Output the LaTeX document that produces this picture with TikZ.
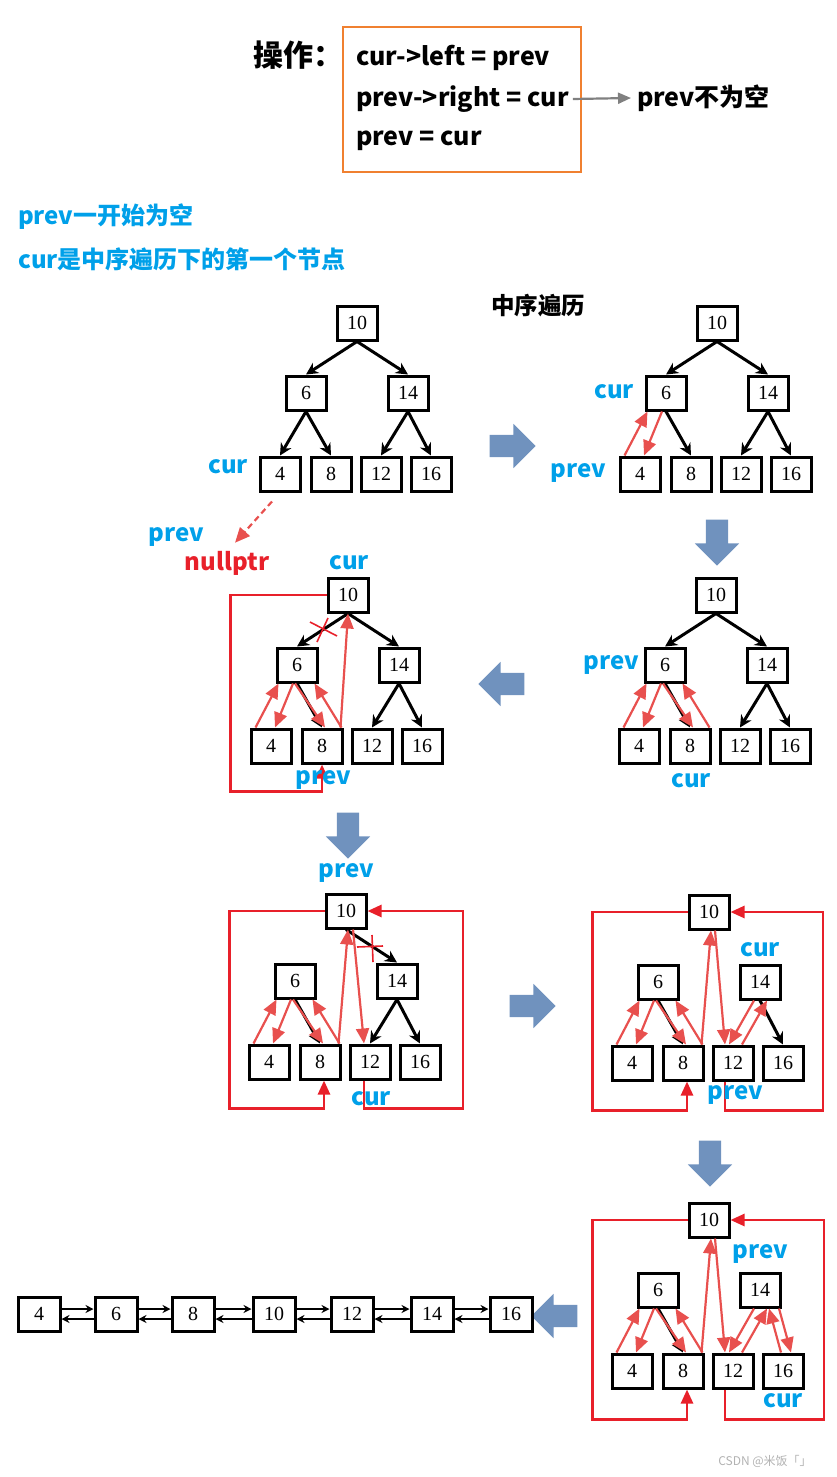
\documentclass[tikz,border=0pt]{standalone}
\usepackage{fontspec}
\setmainfont{Noto Sans CJK SC}
\newfontfamily\numfont{Liberation Serif}
\usetikzlibrary{arrows.meta,positioning,shapes.arrows}

\definecolor{curblue}{RGB}{0,160,233}
\definecolor{linkred}{RGB}{232,80,78}
\definecolor{framered}{RGB}{232,32,42}
\definecolor{boxorange}{RGB}{240,128,48}
\definecolor{stepblue}{RGB}{112,146,190}

\tikzset{
  numbox/.style={draw=black, line width=3pt, fill=white, minimum width=40pt, minimum height=34pt, inner sep=0pt, font=\numfont\fontsize{20}{20}\selectfont},
  blk/.style={-{Stealth[length=12pt,width=12pt]}, line width=3pt},
  listarr/.style={-{Stealth[length=8pt,width=8pt]}, line width=2.4pt},
  rarr/.style={-{Triangle[length=15pt,width=13pt]}, draw=linkred, line width=2.2pt},
  frame/.style={-{Triangle[length=14pt,width=12pt]}, draw=framered, line width=2.6pt},
  tag/.style={text=curblue, font=\bfseries\fontsize{24}{24}\selectfont, inner sep=0pt},
  opline/.style={font=\bfseries\fontsize{25}{25}\selectfont, inner sep=0pt},
  stepper/.style={single arrow, fill=stepblue, draw=none, minimum height=46pt, minimum width=44pt, single arrow head extend=11pt, inner xsep=0pt, inner ysep=11pt}
}

% one search tree, root 10 at (#2,#3)
\newcommand{\bsttree}[3]{%
  \begin{scope}[shift={(#2,#3)}]
    \node[numbox] (#110) at (0,0) {10};
    \node[numbox] (#16) at (-51,70) {6};
    \node[numbox] (#114) at (51,70) {14};
    \node[numbox] (#14) at (-77,151) {4};
    \node[numbox] (#18) at (-26,151) {8};
    \node[numbox] (#112) at (24,151) {12};
    \node[numbox] (#116) at (74,151) {16};
  \end{scope}}

% red links 4<->6 and 6<->8
\newcommand{\leftlinks}[1]{%
  \draw[rarr] ([xshift=6pt]#14.north west) -- ([xshift=3pt]#16.south west);
  \draw[rarr] ([xshift=-4pt]#16.south) -- ([xshift=4pt]#14.north);
  \draw[rarr] ([xshift=-2pt]#16.south) -- ([xshift=3pt]#18.north);
  \draw[rarr] ([xshift=-2pt]#18.north east) -- ([xshift=-4pt]#16.south east);}

\begin{document}
\begin{tikzpicture}[x=1pt, y=-1pt]
  \useasboundingbox (0,0) rectangle (836,1477);

  % Operations
  \node[font=\bfseries\fontsize{30}{30}\selectfont, inner sep=0pt] (optitle) at (298,55) {操作：};
  \node[draw=boxorange, line width=2.6pt, minimum width=238pt, minimum height=145pt] (opbox) at (462,99.5) {};
  \node[opline, anchor=west] (op1) at (356,58) {cur->left = prev};
  \node[opline, anchor=west] (op2) at (356,99) {prev->right = cur};
  \node[opline, anchor=west] (op3) at (356,141) {prev = cur};
  \node[opline, anchor=west] (opnote) at (637,98) {prev不为空};
  \draw[-{Triangle[length=13pt,width=11pt]}, draw=gray, line width=2.2pt] ([xshift=4pt]op2.east) -- ([xshift=-6pt]opnote.west);

  \node[tag, anchor=west] (note1) at (18,217) {prev一开始为空};
  \node[tag, anchor=west] (note2) at (18,259) {cur是中序遍历下的第一个节点};
  \node[font=\bfseries\fontsize{23.5}{23.5}\selectfont, inner sep=0pt] (inorder) at (538,306) {中序遍历};

  % Step arrows
  \node[stepper] (s1) at (507,446) {};
  \node[stepper, rotate=-90] (s2) at (717,537) {};
  \node[stepper, rotate=180] (s3) at (507,684) {};
  \node[stepper, rotate=-90] (s4) at (348,830) {};
  \node[stepper] (s5) at (527,1006) {};
  \node[stepper, rotate=-90] (s6) at (710,1158) {};
  \node[stepper, rotate=180] (s7) at (560,1316) {};

  % Tree A
  \bsttree{A}{357}{323}
  \draw[blk] (A10.south) -- (A6.north);
  \draw[blk] (A10.south) -- (A14.north);
  \draw[blk] (A6.south) -- (A4.north);
  \draw[blk] (A6.south) -- (A8.north);
  \draw[blk] (A14.south) -- (A12.north);
  \draw[blk] (A14.south) -- (A16.north);
  \node[tag] (Acur) at (228,467) {cur};
  \node[tag] (Aprev) at (176,537) {prev};
  \node[text=framered, font=\bfseries\fontsize{24}{24}\selectfont, inner sep=0pt] (nullp) at (227,563) {nullptr};
  \draw[rarr, dash pattern=on 6pt off 4pt] ([shift={(-8pt,-9pt)}]A4.south) -- ([shift={(8pt,8pt)}]nullp.north);

  % Tree B
  \bsttree{B}{717}{323}
  \draw[blk] (B10.south) -- (B6.north);
  \draw[blk] (B10.south) -- (B14.north);
  \draw[blk] (B6.south) -- (B8.north);
  \draw[blk] (B14.south) -- (B12.north);
  \draw[blk] (B14.south) -- (B16.north);
  \draw[rarr] ([xshift=6pt]B4.north west) -- ([xshift=3pt]B6.south west);
  \draw[rarr] ([xshift=-4pt]B6.south) -- ([xshift=4pt]B4.north);
  \node[tag] (Bcur) at (614,392) {cur};
  \node[tag] (Bprev) at (578,473) {prev};

  % Tree C
  \bsttree{C}{348}{595}
  \draw[blk] (C10.south) -- (C6.north);
  \draw[blk] (C10.south) -- (C14.north);
  \draw[blk] (C6.south) -- (C8.north);
  \draw[blk] (C14.south) -- (C12.north);
  \draw[blk] (C14.south) -- (C16.north);
  \leftlinks{C}
  \draw[rarr] ([xshift=-3pt]C8.north east) -- (C10.south);
  \draw[framered, line width=1.6pt] (310,622) -- (337,636) (328,618) -- (317,642);
  \draw[frame] (C10.west) -- ++(-96,0) |- ([yshift=-27pt]C8.south) -- (C8.south);
  \node[tag] (Ccur) at (349,563) {cur};
  \node[tag] (Cprev) at (323,780) {prev};

  % Tree D
  \bsttree{D}{716}{595}
  \draw[blk] (D10.south) -- (D6.north);
  \draw[blk] (D10.south) -- (D14.north);
  \draw[blk] (D6.south) -- (D8.north);
  \draw[blk] (D14.south) -- (D12.north);
  \draw[blk] (D14.south) -- (D16.north);
  \leftlinks{D}
  \node[tag] (Dprev) at (611,665) {prev};
  \node[tag] (Dcur) at (691,781) {cur};

  % Tree E
  \bsttree{E}{346}{911}
  \draw[blk] (E10.south) -- (E14.north);
  \draw[blk] (E6.south) -- (E8.north);
  \draw[blk] (E14.south) -- (E12.north);
  \draw[blk] (E14.south) -- (E16.north);
  \leftlinks{E}
  \draw[rarr] ([xshift=-3pt]E8.north east) -- ([xshift=2pt]E10.south);
  \draw[rarr] ([xshift=7pt]E10.south) -- ([xshift=-6pt]E12.north);
  \draw[framered, line width=1.6pt] (357,947) -- (383,946) (372,935) -- (373,962);
  \draw[frame] (E10.west) -- ++(-95,0) |- ([shift={(4pt,-28pt)}]E8.south) -- ([xshift=4pt]E8.south);
  \draw[frame] ([xshift=-6pt]E12.south) -- ++(0,28) -- ++(99,0) |- (E10.east);
  \node[tag] (Eprev) at (346,873) {prev};
  \node[tag] (Ecur) at (371,1099) {cur};

  % Tree F
  \bsttree{F}{709}{912}
  \draw[blk] (F6.south) -- (F8.north);
  \draw[blk] (F14.south) -- (F16.north);
  \leftlinks{F}
  \draw[rarr] ([xshift=-3pt]F8.north east) -- ([xshift=2pt]F10.south);
  \draw[rarr] ([xshift=6pt]F10.south) -- ([xshift=-8pt]F12.north);
  \draw[rarr] ([xshift=-6pt]F14.south) -- ([xshift=-4pt]F12.north);
  \draw[rarr] ([xshift=9pt]F12.north) -- ([xshift=7pt]F14.south);
  \draw[frame] (F10.west) -- ++(-95,0) |- ([shift={(4pt,-29pt)}]F8.south) -- ([xshift=4pt]F8.south);
  \draw[frame] ([xshift=-8pt]F12.south) -- ++(0,29) -- ++(98,0) |- (F10.east);
  \node[tag] (Fcur) at (760,950) {cur};
  \node[tag] (Fprev) at (735,1095) {prev};

  % Tree G
  \bsttree{G}{709}{1220}
  \draw[blk] (G6.south) -- (G8.north);
  \leftlinks{G}
  \draw[rarr] ([xshift=-3pt]G8.north east) -- ([xshift=2pt]G10.south);
  \draw[rarr] ([xshift=6pt]G10.south) -- ([xshift=-8pt]G12.north);
  \draw[rarr] ([xshift=-6pt]G14.south) -- ([xshift=-4pt]G12.north);
  \draw[rarr] ([xshift=9pt]G12.north) -- ([xshift=7pt]G14.south);
  \draw[rarr] ([xshift=19pt]G14.south) -- ([xshift=8pt]G16.north);
  \draw[rarr] ([xshift=-2pt]G16.north) -- ([xshift=9pt]G14.south);
  \draw[frame] (G10.west) -- ++(-95,0) |- ([shift={(4pt,-30pt)}]G8.south) -- ([xshift=4pt]G8.south);
  \draw[frame] ([xshift=-8pt]G12.south) -- ++(0,30) -- ++(99,0) |- (G10.east);
  \node[tag] (Gprev) at (760,1254) {prev};
  \node[tag] (Gcur) at (783,1401) {cur};

  % Resulting list
  \foreach \v/\x in {4/39,6/116,8/193,10/274,12/352,14/432,16/511}
    \node[numbox, minimum width=42pt] (L\v) at (\x,1314) {\v};
  \foreach \a/\b in {4/6,6/8,8/10,10/12,12/14,14/16} {
    \draw[listarr] ([yshift=5pt]L\a.east) -- ([yshift=5pt]L\b.west);
    \draw[listarr] ([yshift=-5pt]L\b.west) -- ([yshift=-5pt]L\a.east);
  }

  \node[text=gray!60, font=\fontsize{12}{12}\selectfont, inner sep=0pt] (wm) at (765,1461) {CSDN @米饭「」};
\end{tikzpicture}
\end{document}
